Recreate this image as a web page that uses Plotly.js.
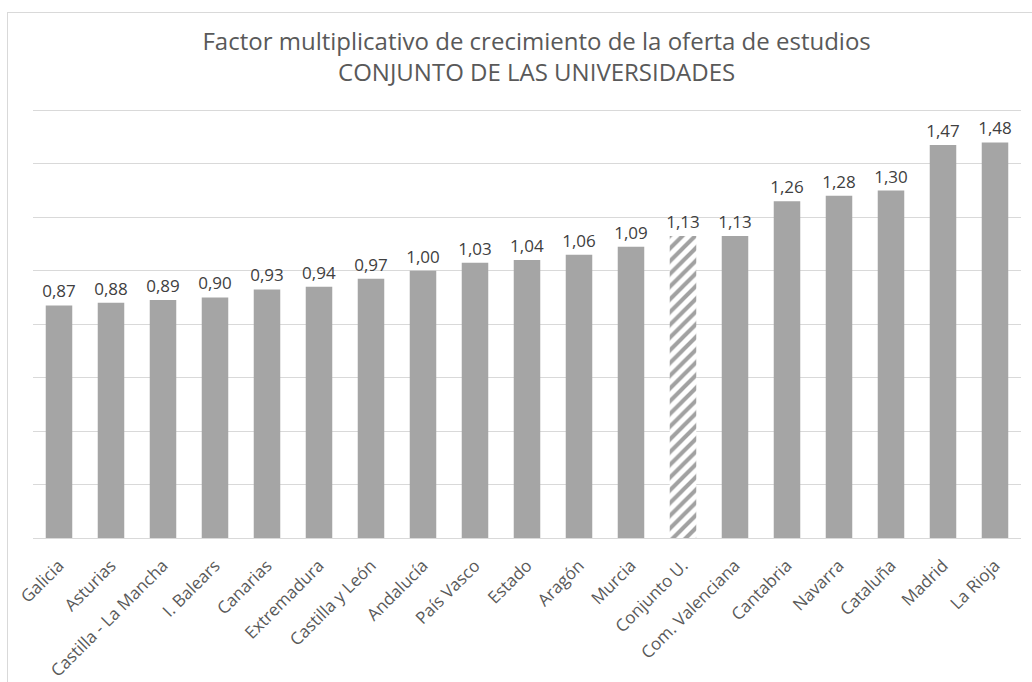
<!DOCTYPE html>
<html>
<head>
<meta charset="utf-8">
<script src="https://cdn.plot.ly/plotly-3.0.1.min.js"></script>
<style>
  html, body { margin: 0; padding: 0; background: #fff; }
  #wrap { position: relative; width: 1032px; height: 682px; overflow: hidden; }
  #frame { position: absolute; left: 7px; top: 12px; width: 1100px; height: 700px;
           border-left: 1px solid #d9d9d9; border-top: 1px solid #d9d9d9; pointer-events: none; }
  #chart { position: absolute; left: 0; top: 0; width: 1032px; height: 682px; }
</style>
</head>
<body>
<div id="wrap">
  <div id="chart"></div>
  <div id="frame"></div>
</div>
<script>
const categories = ["Galicia", "Asturias", "Castilla - La Mancha", "I. Balears", "Canarias",
  "Extremadura", "Castilla y León", "Andalucía", "País Vasco", "Estado", "Aragón", "Murcia",
  "Conjunto U.", "Com. Valenciana", "Cantabria", "Navarra", "Cataluña", "Madrid", "La Rioja"];
const values = [0.87, 0.88, 0.89, 0.90, 0.93, 0.94, 0.97, 1.00, 1.03, 1.04, 1.06, 1.09,
  1.13, 1.13, 1.26, 1.28, 1.30, 1.47, 1.48];
const highlighted = "Conjunto U.";
const titleLines = ["Factor multiplicativo de crecimiento de la oferta de estudios", "CONJUNTO DE LAS UNIVERSIDADES"];

const gray = "#a5a5a5";
const labels = values.map(v => v.toFixed(2).replace(".", ","));
const shapes = categories.map(c => c === highlighted ? "/" : "");

const trace = {
  type: "bar",
  x: categories,
  y: values,
  text: labels,
  textposition: "outside",
  texttemplate: "%{text}",
  constraintext: "none",
  cliponaxis: false,
  textfont: { family: "Open Sans, sans-serif", size: 17, color: "#404040" },
  marker: {
    color: categories.map(c => c === highlighted ? "#ffffff" : gray),
    line: { width: 0 },
    pattern: {
      shape: shapes,
      fgcolor: gray,
      bgcolor: "#ffffff",
      size: 9,
      solidity: 0.45,
      fillmode: "overlay"
    }
  },
  hoverinfo: "x+y"
};

const layout = {
  width: 1032,
  height: 682,
  margin: { l: 33, r: 11, t: 109, b: 144 },
  paper_bgcolor: "#ffffff",
  plot_bgcolor: "#ffffff",
  bargap: 0.49,
  showlegend: false,
  title: {
    text: titleLines.join("<br>"),
    font: { family: "Open Sans, sans-serif", size: 24, color: "#595959" },
    x: 0.52,
    xref: "container",
    xanchor: "center",
    yref: "container",
    y: 0.927,
    yanchor: "top"
  },
  xaxis: {
    type: "category",
    tickangle: -45,
    tickfont: { family: "Open Sans, sans-serif", size: 17, color: "#595959" },
    ticklabelstandoff: 10,
    showgrid: false,
    showline: true,
    linecolor: "#d9d9d9",
    linewidth: 1,
    ticks: "",
    fixedrange: true
  },
  yaxis: {
    range: [0, 1.605],
    dtick: 0.2,
    tick0: 0,
    showgrid: true,
    gridcolor: "#d9d9d9",
    gridwidth: 1,
    showticklabels: false,
    zeroline: false,
    ticks: "",
    fixedrange: true
  }
};

Plotly.newPlot("chart", [trace], layout, { displayModeBar: false, staticPlot: true });
</script>
</body>
</html>
